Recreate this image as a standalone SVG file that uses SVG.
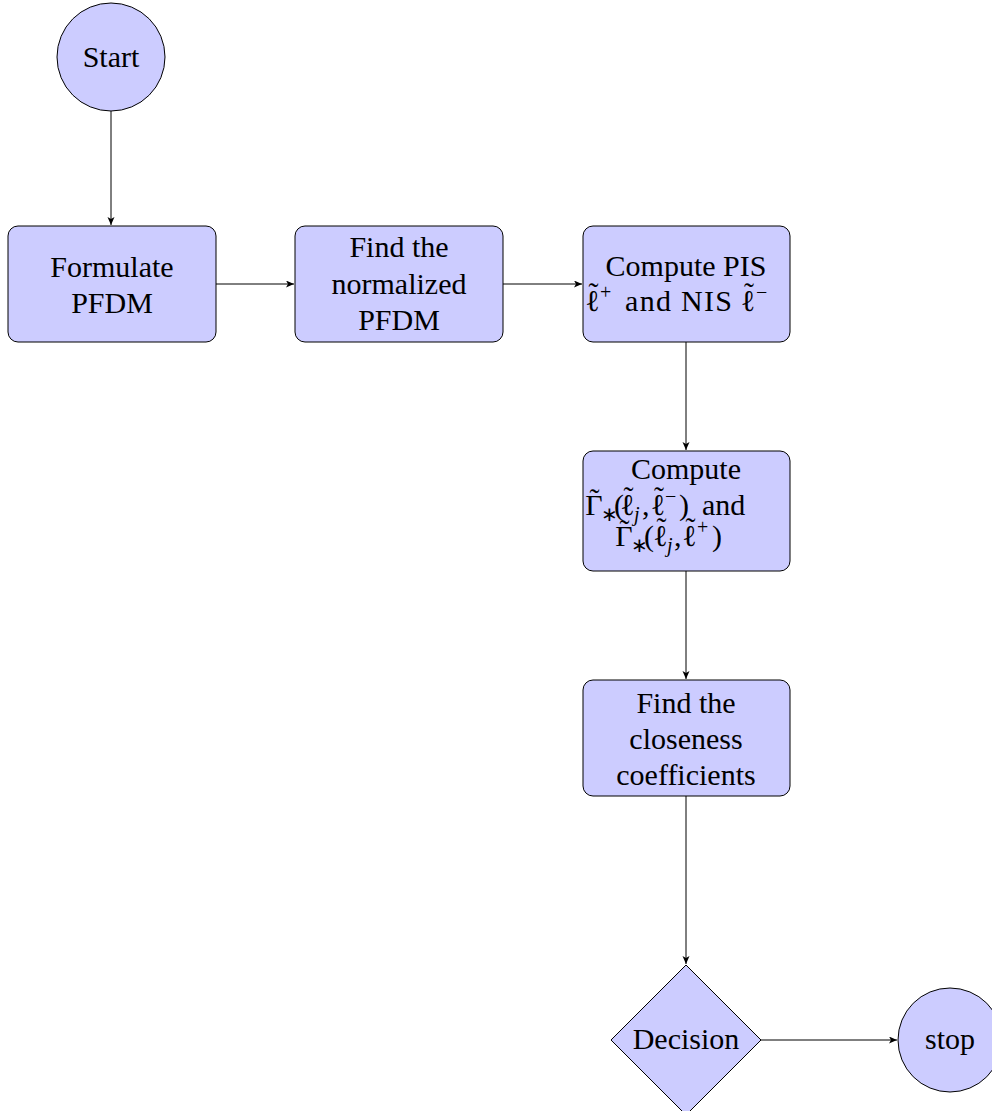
<svg xmlns="http://www.w3.org/2000/svg" width="992" height="1111" viewBox="0 0 992 1111">
<style>
.n{fill:#ccccff;stroke:#000;stroke-width:1}
.t{font-family:"Liberation Serif","Times New Roman",serif;font-size:30px;fill:#000;text-anchor:middle}
.l{text-anchor:start}
.s{font-size:20px;text-anchor:start}
.c{fill:none;stroke:#000;stroke-width:1}
</style>
<defs>
<marker id="a" markerUnits="userSpaceOnUse" markerWidth="10" markerHeight="8" refX="8" refY="3.5" orient="auto">
<path d="M0,0 L8,3.5 L0,7 L2,3.5 z" fill="#000"/>
</marker>
</defs>
<g id="connectors">
<line class="c" x1="111" y1="111" x2="111" y2="225" marker-end="url(#a)"/>
<line class="c" x1="216" y1="284" x2="294" y2="284" marker-end="url(#a)"/>
<line class="c" x1="503" y1="284" x2="582" y2="284" marker-end="url(#a)"/>
<line class="c" x1="686" y1="342" x2="686" y2="450" marker-end="url(#a)"/>
<line class="c" x1="686" y1="571" x2="686" y2="679" marker-end="url(#a)"/>
<line class="c" x1="686" y1="796" x2="686" y2="964" marker-end="url(#a)"/>
<line class="c" x1="761" y1="1040" x2="897" y2="1040" marker-end="url(#a)"/>
</g>
<g id="start">
<circle class="n" cx="111" cy="57" r="54"/>
<text class="t" x="111" y="67">Start</text>
</g>
<g id="formulate">
<rect class="n" x="8" y="226" width="208" height="116" rx="10"/>
<text class="t" x="112" y="277">Formulate</text>
<text class="t" x="112" y="313">PFDM</text>
</g>
<g id="normalize">
<rect class="n" x="295" y="226" width="208" height="116" rx="10"/>
<text class="t" x="399" y="257">Find the</text>
<text class="t" x="399" y="294">normalized</text>
<text class="t" x="399" y="330">PFDM</text>
</g>
<g id="pis">
<rect class="n" x="583" y="226" width="207" height="116" rx="10"/>
<text class="t" x="686" y="276">Compute PIS</text>
<text class="t" x="592.5" y="311">ℓ</text>
<text class="t" x="593.5" y="303">˜</text>
<text class="t s" x="600" y="299">+</text>
<text class="t l" x="625" y="311" textLength="107" lengthAdjust="spacing">and NIS</text>
<text class="t" x="748" y="311">ℓ</text>
<text class="t" x="749" y="303">˜</text>
<text class="t s" x="756" y="299">−</text>
</g>
<g id="distance">
<rect class="n" x="583" y="451" width="207" height="120" rx="10"/>
<text class="t" x="686" y="479">Compute</text>
<text class="t" x="594" y="515">Γ</text>
<text class="t" x="594.5" y="509" font-size="34">˜</text>
<text class="t s" x="601" y="521">∗</text>
<text class="t l" x="614" y="515">(</text>
<text class="t" x="627.5" y="515">ℓ</text>
<text class="t" x="628.5" y="507">˜</text>
<text class="t s" x="634" y="521" font-style="italic">j</text>
<text class="t l" x="642" y="515">,</text>
<text class="t" x="658" y="515">ℓ</text>
<text class="t" x="659" y="507">˜</text>
<text class="t s" x="665" y="503">−</text>
<text class="t l" x="679" y="515">)</text>
<text class="t l" x="702" y="515">and</text>
<text class="t" x="624" y="546">Γ</text>
<text class="t" x="624.5" y="540" font-size="34">˜</text>
<text class="t s" x="631" y="552">∗</text>
<text class="t l" x="644" y="546">(</text>
<text class="t" x="660.5" y="546">ℓ</text>
<text class="t" x="661.5" y="538">˜</text>
<text class="t s" x="667" y="552" font-style="italic">j</text>
<text class="t l" x="674" y="546">,</text>
<text class="t" x="689.5" y="546">ℓ</text>
<text class="t" x="690.5" y="538">˜</text>
<text class="t s" x="697" y="534">+</text>
<text class="t l" x="712" y="546">)</text>
</g>
<g id="closeness">
<rect class="n" x="583" y="680" width="207" height="116" rx="10"/>
<text class="t" x="686" y="713">Find the</text>
<text class="t" x="686" y="749">closeness</text>
<text class="t" x="686" y="785">coefficients</text>
</g>
<g id="decision">
<polygon class="n" points="686,965 761,1040 686,1115 611,1040"/>
<text class="t" x="686" y="1049">Decision</text>
</g>
<g id="stop">
<circle class="n" cx="950" cy="1040" r="52"/>
<text class="t" x="950" y="1049">stop</text>
</g>
</svg>
